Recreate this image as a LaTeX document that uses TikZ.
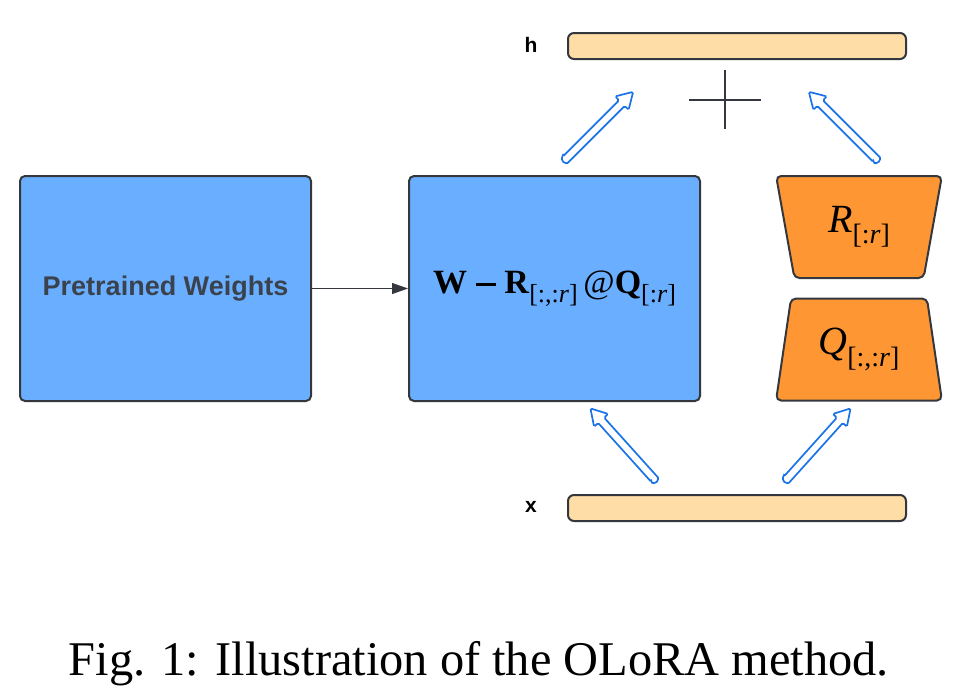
\documentclass[tikz,border=0pt]{standalone}
\usepackage{fontspec}
\setmainfont{Liberation Serif}
\setsansfont{Liberation Sans}
\usetikzlibrary{arrows.meta,shapes.geometric}

\definecolor{boxblue}{RGB}{106,175,255}
\definecolor{rankorange}{RGB}{253,150,51}
\definecolor{barpeach}{RGB}{255,221,166}
\definecolor{arrowblue}{RGB}{26,115,232}
\definecolor{linegray}{RGB}{52,56,62}
\definecolor{textgray}{RGB}{58,66,78}

\newcommand{\lowsub}[2]{\raisebox{-0.28em}{\fontsize{#1}{#1}\selectfont #2}}

\tikzset{
    weightbox/.style={draw=linegray, fill=boxblue, line width=2pt, rounded corners=5pt,
        minimum width=291pt, minimum height=225pt, inner sep=0pt},
    featbar/.style={draw=linegray, fill=barpeach, line width=2pt, rounded corners=6pt,
        minimum width=338pt, minimum height=26pt, inner sep=0pt},
    lowrank/.style={draw=linegray, fill=rankorange, line width=2pt, rounded corners=5pt,
        trapezium, trapezium stretches=true, trapezium angle=78,
        minimum width=166pt, minimum height=102pt, inner sep=0pt},
    veclabel/.style={font=\sffamily\bfseries\fontsize{21}{24}\selectfont},
    hollowarrow/.pic={
        \draw[draw=arrowblue, fill=white, line width=1.7pt, rounded corners=1.5pt]
            (0,-4) -- (79,-4) -- (79,-9.5) -- (95,0) -- (79,9.5) -- (79,4) -- (0,4)
            arc[start angle=90, end angle=270, radius=4] -- cycle;
    }
}

\begin{document}
\begin{tikzpicture}[x=1pt,y=-1pt]
    \useasboundingbox (0,0) rectangle (954,694);

    % weight blocks
    \node[weightbox] (pw) at (165.5,288.5) {\color{textgray}\sffamily\bfseries\fontsize{27}{30}\selectfont Pretrained Weights};
    \node[weightbox] (merged) at (554.5,288.5) {\fontsize{34}{36}\selectfont\textbf{W \rule[0.22em]{0.6em}{0.09em} R}\lowsub{26}{[:,:\textit{r}]}\,@\textbf{Q}\lowsub{26}{[:\textit{r}]}};
    \draw[-{Triangle[length=16pt,width=11pt]}, draw=linegray, fill=linegray, line width=1pt] (pw.east) -- (merged.west);

    % input and output
    \node[featbar] (hbar) at (737,46) {};
    \node[featbar] (xbar) at (737,508) {};
    \node[veclabel] (hlab) at (531,45) {h};
    \node[veclabel] (xlab) at (531,507) {x};

    % low rank factors
    \node[lowrank, shape border rotate=180] (rmat) at (859,227) {\fontsize{40}{42}\selectfont\textit{R}\lowsub{28}{[:\textit{r}]}};
    \node[lowrank] (qmat) at (859,349.5) {\fontsize{40}{42}\selectfont\textit{Q}\lowsub{28}{[:,:\textit{r}]}};

    % sum
    \draw[draw=linegray, line width=2pt] (689,100) -- (761,100);
    \draw[draw=linegray, line width=2pt] (725,70) -- (725,129);

    % flow arrows
    \pic[rotate=45] at (566,159) {hollowarrow};
    \pic[rotate=135] at (876,159) {hollowarrow};
    \pic[rotate=132] at (654,479) {hollowarrow};
    \pic[rotate=48] at (787,479) {hollowarrow};

    \node (caption) at (479,664) {\fontsize{48.4}{52}\selectfont Fig. 1: Illustration of the OLoRA method.};
\end{tikzpicture}
\end{document}
